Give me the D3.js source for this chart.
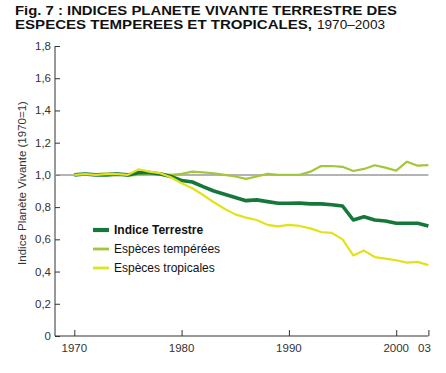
<!DOCTYPE html>
<html>
<head>
<meta charset="utf-8">
<script src="https://cdn.jsdelivr.net/npm/d3@7"></script>
<style>
  body { margin: 0; background: #fff; }
  svg text { font-family: "Liberation Sans", Arial, sans-serif; }
</style>
</head>
<body>
<div id="chart"></div>
<script>
// years 1970..2003, values (1970 = 1)
const years = d3.range(1970, 2004);
const terrestre = [1.0, 1.006, 1.0, 1.0, 1.005, 1.0, 1.014, 1.014, 1.006, 0.99,
  0.965, 0.956, 0.927, 0.90, 0.88, 0.86, 0.84, 0.845, 0.834, 0.824,
  0.824, 0.825, 0.82, 0.82, 0.815, 0.807, 0.72, 0.74, 0.72, 0.714,
  0.70, 0.70, 0.70, 0.683];
const temperees = [1.0, 1.0, 1.005, 1.01, 1.01, 0.995, 1.0, 1.01, 1.01, 1.0,
  1.006, 1.02, 1.016, 1.01, 1.0, 0.99, 0.975, 0.99, 1.006, 1.0,
  1.0, 1.0, 1.02, 1.055, 1.055, 1.05, 1.024, 1.037, 1.06, 1.045,
  1.026, 1.082, 1.057, 1.06];
const tropicales = [1.0, 1.005, 1.0, 1.005, 1.005, 1.0, 1.035, 1.02, 1.01, 0.985,
  0.948, 0.917, 0.875, 0.83, 0.79, 0.755, 0.735, 0.72, 0.69, 0.68,
  0.69, 0.683, 0.668, 0.645, 0.64, 0.60, 0.50, 0.53, 0.49, 0.48,
  0.47, 0.455, 0.46, 0.44];
const yTicks = [0, 0.2, 0.4, 0.6, 0.8, 1.0, 1.2, 1.4, 1.6, 1.8];
const xTicks = [1970, 1980, 1990, 2000, 2003];
const xTickLabels = ["1970", "1980", "1990", "2000", "03"];
const seriesNames = ["Indice Terrestre", "Espèces tempérées", "Espèces tropicales"];

const width = 446, height = 373;
const svg = d3.select("#chart").append("svg")
  .attr("width", width).attr("height", height);

// title (stretched to the width of the original heavy face)
svg.append("text").attr("x", 15).attr("y", 14.5)
  .attr("font-size", 13).attr("font-weight", "bold").attr("fill", "#111")
  .attr("textLength", 382).attr("lengthAdjust", "spacingAndGlyphs")
  .text("Fig. 7 : INDICES PLANETE VIVANTE TERRESTRE DES");
svg.append("text").attr("x", 15).attr("y", 29)
  .attr("font-size", 13).attr("font-weight", "bold").attr("fill", "#111")
  .attr("textLength", 297).attr("lengthAdjust", "spacingAndGlyphs")
  .text("ESPECES TEMPEREES ET TROPICALES,");
svg.append("text").attr("x", 317).attr("y", 29)
  .attr("font-size", 13).attr("fill", "#111")
  .attr("textLength", 68).attr("lengthAdjust", "spacingAndGlyphs")
  .text("1970–2003");

const x = d3.scaleLinear().domain([1970, 2003]).range([74.3, 428.4]);
const y = d3.scaleLinear().domain([0, 1.8]).range([336, 46]);

// y axis
const yAxis = svg.append("g").attr("transform", "translate(55,0)")
  .call(d3.axisRight(y).tickValues(yTicks).tickSize(5).tickFormat(() => ""));
yAxis.select(".domain").attr("d", "M0," + y(1.8) + "V" + y(0));
yAxis.selectAll("line, path").attr("stroke", "#333");
svg.append("g").selectAll("text").data(yTicks).join("text")
  .attr("x", 51).attr("y", d => y(d) + 4)
  .attr("text-anchor", "end").attr("font-size", 11.5).attr("fill", "#333")
  .text(d => d === 0 ? "0" : d3.format(".1f")(d).replace(".", ","));

// x axis
const xAxis = svg.append("g").attr("transform", "translate(0," + y(0) + ")")
  .call(d3.axisTop(x).tickValues(xTicks).tickSize(6).tickFormat(() => ""));
xAxis.select(".domain").attr("d", "M55,0H" + x(2003));
xAxis.selectAll("line, path").attr("stroke", "#333");
svg.append("g").selectAll("text").data(xTicks).join("text")
  .attr("x", (d, i) => x(d) - (i === 4 ? 4 : 0)).attr("y", 352)
  .attr("text-anchor", "middle").attr("font-size", 11.5).attr("fill", "#333")
  .text((d, i) => xTickLabels[i]);

// y label
svg.append("text")
  .attr("transform", "translate(26,183) rotate(-90)")
  .attr("text-anchor", "middle").attr("font-size", 11.5).attr("fill", "#333")
  .text("Indice Planète Vivante (1970=1)");

// reference line at 1
svg.append("line").attr("x1", 55).attr("x2", x(2003))
  .attr("y1", y(1)).attr("y2", y(1)).attr("stroke", "#9a9a9a").attr("stroke-width", 1.5);

const line = d3.line().x((d, i) => x(years[i])).y(d => y(d));
const series = [
  { name: seriesNames[1], values: temperees, color: "#a5c63a", w: 2.2 },
  { name: seriesNames[0], values: terrestre, color: "#15783a", w: 3.6 },
  { name: seriesNames[2], values: tropicales, color: "#e2e21c", w: 2.2 }
];
svg.append("g").selectAll("path").data(series).join("path")
  .attr("d", d => line(d.values)).attr("fill", "none")
  .attr("stroke", d => d.color).attr("stroke-width", d => d.w)
  .attr("stroke-linejoin", "round");

// legend
const legend = [series[1], series[0], series[2]];
const lg = svg.append("g").selectAll("g").data(legend).join("g")
  .attr("transform", (d, i) => "translate(93," + (230 + i * 19) + ")");
lg.append("line").attr("x1", 0).attr("x2", 16)
  .attr("stroke", d => d.color).attr("stroke-width", d => d.w + 0.6);
lg.append("text").attr("x", 21).attr("y", 4).attr("font-size", 12)
  .attr("font-weight", (d, i) => i === 0 ? "bold" : "normal").attr("fill", "#111")
  .text(d => d.name);
</script>
</body>
</html>
